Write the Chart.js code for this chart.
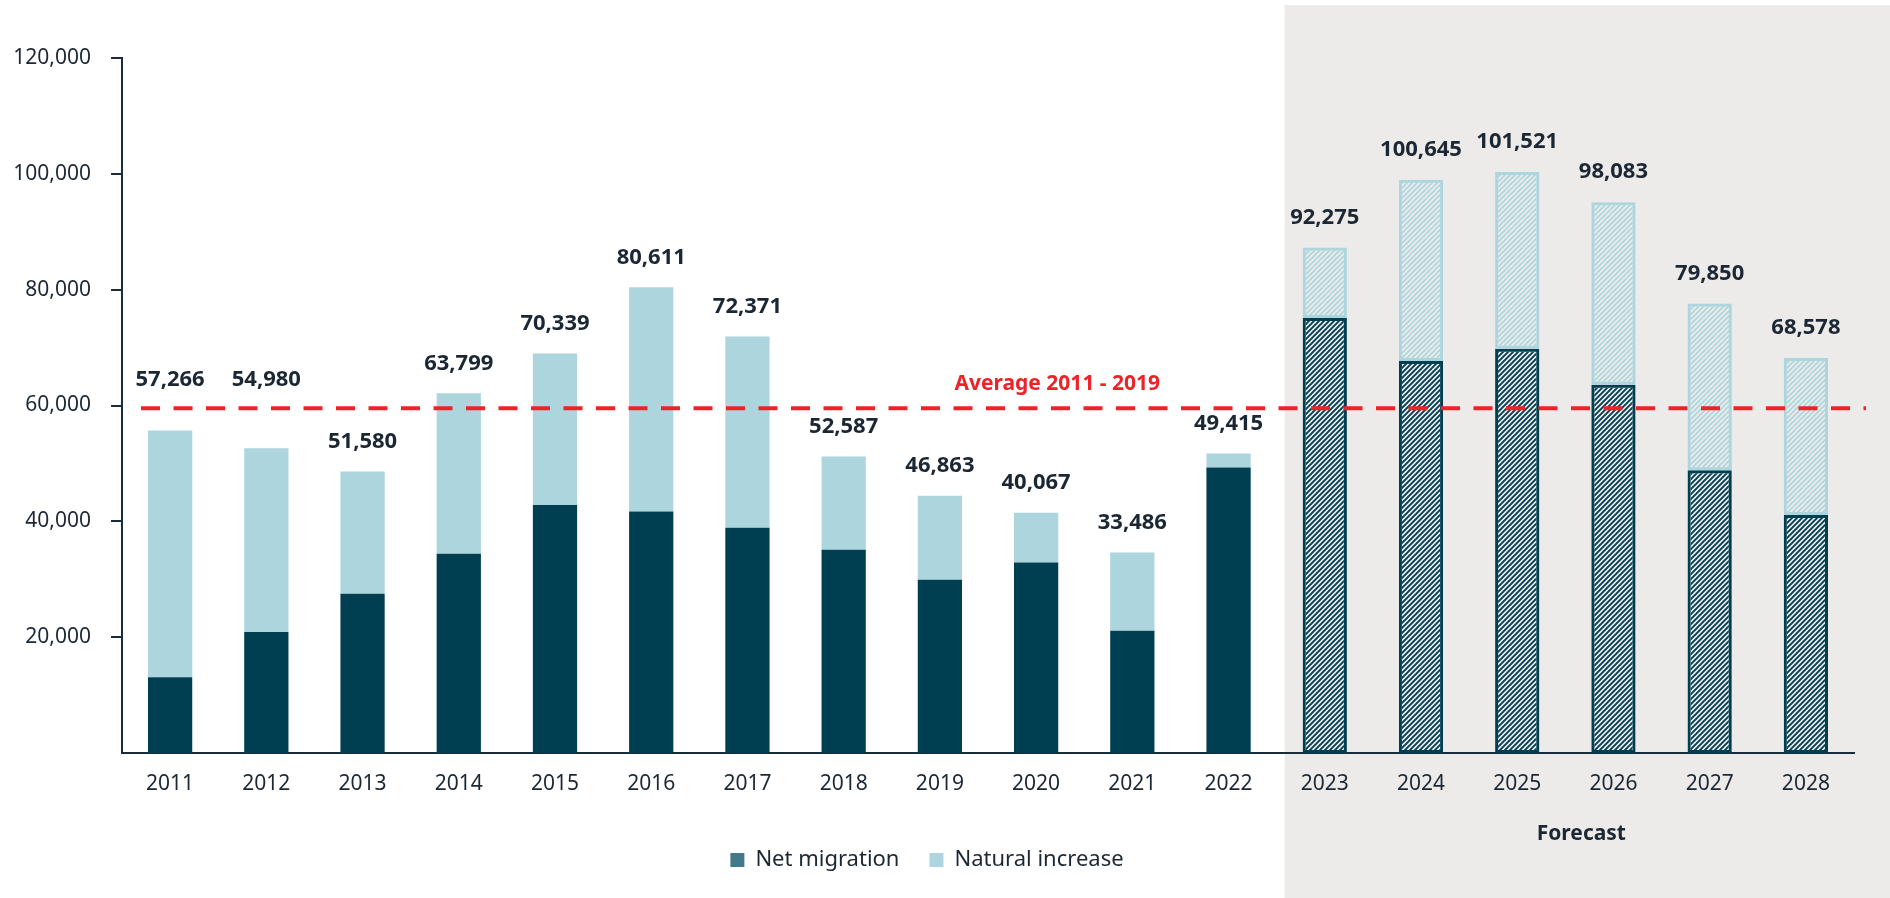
<!DOCTYPE html>
<html>
<head>
<meta charset="utf-8">
<script src="https://cdn.jsdelivr.net/npm/chart.js@4.4.0/dist/chart.umd.min.js"></script>
<style>
  html, body { margin: 0; padding: 0; background: #fff; }
</style>
</head>
<body>
<canvas id="chart" width="1890" height="898"></canvas>
<script>
const years = ['2011', '2012', '2013', '2014', '2015', '2016', '2017', '2018', '2019',
  '2020', '2021', '2022', '2023', '2024', '2025', '2026', '2027', '2028']
const netMigration = [13100, 20900, 27500, 34400, 42800, 41700, 38900, 35100, 29900,
  32900, 21100, 49300, 75100, 67700, 69800, 63600, 48800, 41100]
const naturalIncrease = [42600, 31700, 21100, 27700, 26200, 38700, 33000, 16100, 14500,
  8600, 13500, 2400, 12200, 31300, 30500, 31500, 28800, 27100]
const totalLabels = [57266, 54980, 51580, 63799, 70339, 80611, 72371, 52587, 46863,
  40067, 33486, 49415, 92275, 100645, 101521, 98083, 79850, 68578]
const yTicks = [20000, 40000, 60000, 80000, 100000, 120000]
const firstForecast = years.indexOf('2023')
const averageYears = ['2011', '2019']

const FONT = "'Noto Sans', sans-serif"
const TEXT = '#1c2734'
const AXIS = '#1c2b3a'
const DARK = '#003f51'
const LIGHT = '#acd5dd'
const RED = '#ee2229'
const PANEL = '#ecebe9'

function hatch(color, width) {
  const c = document.createElement('canvas')
  c.width = 5
  c.height = 5
  const g = c.getContext('2d')
  g.strokeStyle = color
  g.lineWidth = width
  g.beginPath()
  g.moveTo(-1, 6); g.lineTo(6, -1)
  g.moveTo(-3, 3); g.lineTo(3, -3)
  g.moveTo(2, 8); g.lineTo(8, 2)
  g.stroke()
  return g.createPattern(c, 'repeat')
}
const darkHatch = hatch(DARK, 1.9)
const lightHatch = hatch(LIGHT, 1.6)

const isForecast = i => i >= firstForecast
const totals = netMigration.map((v, i) => v + naturalIncrease[i])
const a0 = years.indexOf(averageYears[0])
const a1 = years.indexOf(averageYears[1])
const avgSlice = totals.slice(a0, a1 + 1)
const average = avgSlice.reduce((s, v) => s + v, 0) / avgSlice.length

const panelPlugin = {
  id: 'panel',
  beforeDraw(chart) {
    const { ctx, scales: { x } } = chart
    const left = (x.getPixelForValue(firstForecast - 1) + x.getPixelForValue(firstForecast)) / 2 + 8
    ctx.save()
    ctx.fillStyle = PANEL
    ctx.fillRect(left, 5, chart.width - left, chart.height - 5)
    ctx.fillStyle = TEXT
    ctx.font = `bold 21px ${FONT}`
    ctx.textAlign = 'center'
    ctx.textBaseline = 'middle'
    ctx.fillText('Forecast', (left + chart.width) / 2 - 6, 834)
    ctx.restore()
  }
}

const overlayPlugin = {
  id: 'overlay',
  afterDatasetsDraw(chart) {
    const { ctx, chartArea, scales: { x, y } } = chart
    const lineY = y.getPixelForValue(average)
    ctx.save()
    // average line
    ctx.strokeStyle = RED
    ctx.lineWidth = 4
    ctx.setLineDash([19, 13.5])
    ctx.beginPath()
    ctx.moveTo(chartArea.left + 19, lineY)
    ctx.lineTo(chartArea.right + 12, lineY)
    ctx.stroke()
    ctx.setLineDash([])
    ctx.fillStyle = RED
    ctx.font = `bold 21px ${FONT}`
    ctx.textAlign = 'center'
    ctx.textBaseline = 'middle'
    ctx.fillText('Average ' + averageYears[0] + ' - ' + averageYears[1],
      chartArea.left + 0.54 * (chartArea.right - chartArea.left), lineY - 24)
    // totals above bars; bars just under the average line get their label above it
    ctx.fillStyle = TEXT
    ctx.font = `bold 22px ${FONT}`
    totals.forEach((t, i) => {
      let ly = y.getPixelForValue(t) - 30
      if (t < average && average - t < 7400) ly = lineY - 28
      ctx.fillText(totalLabels[i].toLocaleString('en-US'), x.getPixelForValue(i), ly)
    })
    ctx.restore()
  }
}

new Chart(document.getElementById('chart'), {
  type: 'bar',
  data: {
    labels: years,
    datasets: [
      {
        label: 'Net migration',
        data: netMigration,
        backgroundColor: netMigration.map((v, i) => isForecast(i) ? darkHatch : DARK),
        borderColor: netMigration.map((v, i) => isForecast(i) ? DARK : 'rgba(0,0,0,0)'),
        borderWidth: netMigration.map((v, i) => isForecast(i) ? 3 : 0),
        borderSkipped: false
      },
      {
        label: 'Natural increase',
        data: naturalIncrease,
        backgroundColor: naturalIncrease.map((v, i) => isForecast(i) ? lightHatch : LIGHT),
        borderColor: naturalIncrease.map((v, i) => isForecast(i) ? LIGHT : 'rgba(0,0,0,0)'),
        borderWidth: naturalIncrease.map((v, i) => isForecast(i) ? 3 : 0),
        borderSkipped: false
      }
    ]
  },
  options: {
    responsive: false,
    animation: false,
    devicePixelRatio: 1,
    layout: { padding: { top: 58, right: 36, left: 0, bottom: 17 } },
    datasets: { bar: { barPercentage: 0.46, categoryPercentage: 1 } },
    scales: {
      x: {
        stacked: true,
        grid: { display: false },
        border: { display: true, color: AXIS, width: 2 },
        ticks: { color: TEXT, padding: 10, font: { family: FONT, size: 21 } },
        afterFit(s) { s.height = 66 }
      },
      y: {
        stacked: true,
        min: 0,
        max: 120000,
        afterBuildTicks(s) { s.ticks = yTicks.map(v => ({ value: v })) },
        grid: { drawOnChartArea: false, drawTicks: true, tickLength: 11, color: AXIS, lineWidth: 2 },
        border: { display: true, color: AXIS, width: 2 },
        ticks: {
          color: TEXT,
          padding: 20,
          font: { family: FONT, size: 21 },
          callback: v => v.toLocaleString('en-US')
        },
        afterFit(s) { s.width = 122 }
      }
    },
    plugins: {
      tooltip: { enabled: false },
      legend: {
        position: 'bottom',
        labels: {
          boxWidth: 14,
          boxHeight: 14,
          padding: 30,
          color: TEXT,
          font: { family: FONT, size: 22 },
          generateLabels: () => [
            { text: 'Net migration', fillStyle: '#437a8b', strokeStyle: 'rgba(0,0,0,0)', lineWidth: 0, fontColor: TEXT, datasetIndex: 0 },
            { text: 'Natural increase', fillStyle: LIGHT, strokeStyle: 'rgba(0,0,0,0)', lineWidth: 0, fontColor: TEXT, datasetIndex: 1 }
          ]
        }
      }
    }
  },
  plugins: [panelPlugin, overlayPlugin]
})
</script>
</body>
</html>
